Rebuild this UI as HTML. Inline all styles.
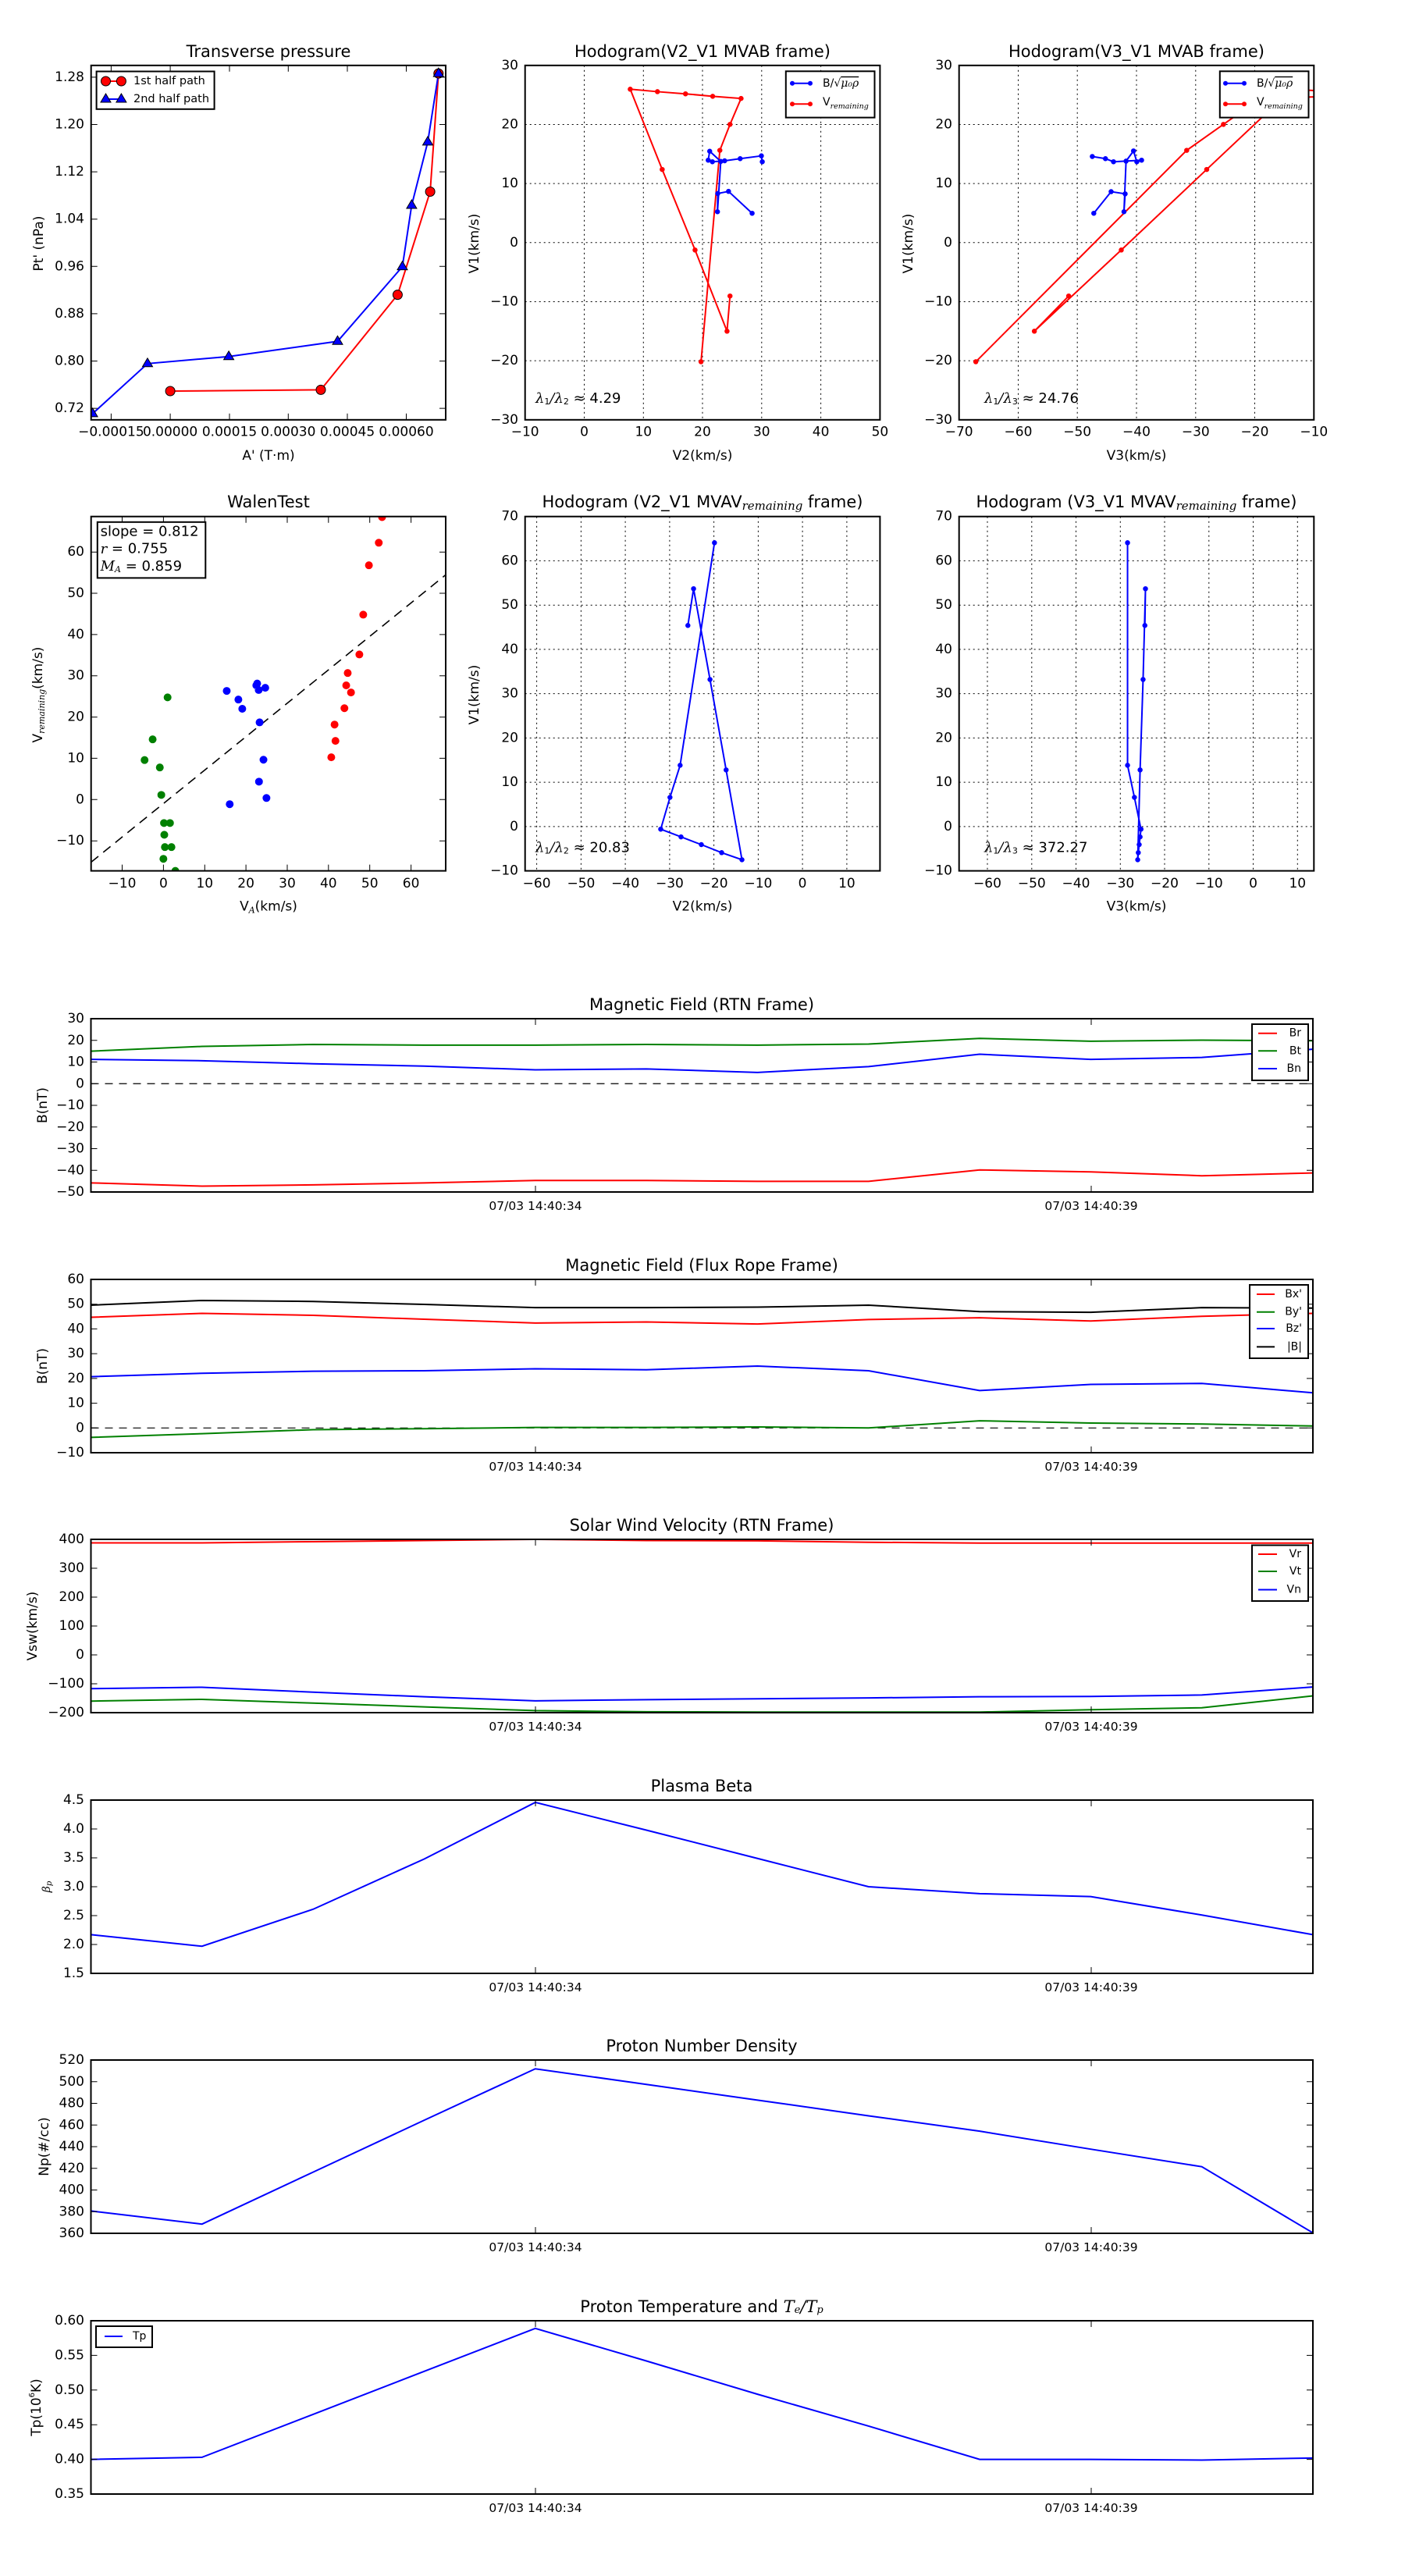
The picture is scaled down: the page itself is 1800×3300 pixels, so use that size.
<!DOCTYPE html>
<html><head><meta charset="utf-8"><style>
html,body{margin:0;padding:0;background:#fff}
svg{display:block}
text{font-family:"DejaVu Sans","Liberation Sans",sans-serif;fill:#000}
.t{font-size:17px}
.ti{font-size:21px}
.m{font-family:"DejaVu Serif","Liberation Serif",serif;font-style:italic}
.ns{vector-effect:non-scaling-stroke}
</style></head><body>
<svg xmlns="http://www.w3.org/2000/svg" width="1800" height="3300" viewBox="0 0 1800 3300">
<rect width="1800" height="3300" fill="#fff"/>
<defs>
<clipPath id="cA"><rect x="116.7" y="83.8" width="454.3" height="454"/></clipPath>
<clipPath id="cB"><rect x="672.7" y="83.8" width="454.7" height="454"/></clipPath>
<clipPath id="cC"><rect x="1228.7" y="83.8" width="454.6" height="454"/></clipPath>
<clipPath id="cW"><rect x="116.7" y="661.7" width="454.3" height="453.9"/></clipPath>
<clipPath id="cB2"><rect x="672.7" y="661.7" width="454.7" height="453.9"/></clipPath>
<clipPath id="cC2"><rect x="1228.7" y="661.7" width="454.6" height="453.9"/></clipPath>
<clipPath id="cT"><rect x="116.5" y="0" width="1565.5" height="3300"/></clipPath>
</defs>

<!-- ============ Plot A: Transverse pressure ============ -->
<text class="ti" x="344" y="66" text-anchor="middle" dominant-baseline="central">Transverse pressure</text>
<g clip-path="url(#cA)">
<polyline points="218.1,501 411,499.4 509.4,377.6 551.1,245.5 561.8,94.1" fill="none" stroke="#f00" stroke-width="2"/>
<polyline points="118.6,529.9 189,465.8 293.1,456.7 432.5,437.3 515.5,341.6 527.4,263 548,181.9 561.8,94.1" fill="none" stroke="#00f" stroke-width="2"/>
<g fill="#f00" stroke="#000" stroke-width="1">
<circle cx="218.1" cy="501" r="6"/><circle cx="411" cy="499.4" r="6"/><circle cx="509.4" cy="377.6" r="6"/><circle cx="551.1" cy="245.5" r="6"/><circle cx="561.8" cy="94.1" r="6"/>
</g>
<g fill="#00f" stroke="#000" stroke-width="1">
<polygon points="118.6,522.9 112.1,533.9 125.1,533.9"/>
<polygon points="189,458.8 182.5,469.8 195.5,469.8"/>
<polygon points="293.1,449.7 286.6,460.7 299.6,460.7"/>
<polygon points="432.5,430.3 426,441.3 439,441.3"/>
<polygon points="515.5,334.6 509,345.6 522,345.6"/>
<polygon points="527.4,256 520.9,267 533.9,267"/>
<polygon points="548,174.9 541.5,185.9 554.5,185.9"/>
<polygon points="561.8,87.1 555.3,98.1 568.3,98.1"/>
</g>
</g>
<rect x="116.7" y="83.8" width="454.3" height="454" fill="none" stroke="#000" stroke-width="2"/>
<path d="M116.7 98.9h8M116.7 159.5h8M116.7 220.1h8M116.7 280.7h8M116.7 341.3h8M116.7 401.9h8M116.7 462.5h8M116.7 523.1h8M571 98.9h-8M571 159.5h-8M571 220.1h-8M571 280.7h-8M571 341.3h-8M571 401.9h-8M571 462.5h-8M571 523.1h-8M142.4 537.8v-8M218.1 537.8v-8M294 537.8v-8M369.3 537.8v-8M445 537.8v-8M520.5 537.8v-8M142.4 83.8v8M218.1 83.8v8M294 83.8v8M369.3 83.8v8M445 83.8v8M520.5 83.8v8" stroke="#000" stroke-width="1"/>
<g class="t" text-anchor="end" dominant-baseline="central">
<text x="108" y="98.9">1.28</text><text x="108" y="159.5">1.20</text><text x="108" y="220.1">1.12</text><text x="108" y="280.7">1.04</text><text x="108" y="341.3">0.96</text><text x="108" y="401.9">0.88</text><text x="108" y="462.5">0.80</text><text x="108" y="523.1">0.72</text>
</g>
<g class="t" text-anchor="middle" dominant-baseline="central">
<text x="142.4" y="553.6">−0.00015</text><text x="218.1" y="553.6">0.00000</text><text x="294" y="553.6">0.00015</text><text x="369.3" y="553.6">0.00030</text><text x="445" y="553.6">0.00045</text><text x="520.5" y="553.6">0.00060</text>
<text x="344" y="584">A' (T·m)</text>
</g>
<text class="t" transform="translate(50 312) rotate(-90)" text-anchor="middle" dominant-baseline="central">Pt' (nPa)</text>
<rect x="123.6" y="91.5" width="151" height="48.3" fill="#fff" stroke="#000" stroke-width="2"/>
<line x1="135.5" y1="104" x2="155.4" y2="104" stroke="#f00" stroke-width="2"/>
<circle cx="135.5" cy="104" r="6" fill="#f00" stroke="#000"/><circle cx="155.4" cy="104" r="6" fill="#f00" stroke="#000"/>
<line x1="135.5" y1="127" x2="155.4" y2="127" stroke="#00f" stroke-width="2"/>
<polygon points="135.5,120 129,131 142,131" fill="#00f" stroke="#000"/><polygon points="155.4,120 148.9,131 161.9,131" fill="#00f" stroke="#000"/>
<text x="171" y="104" font-size="14.5" dominant-baseline="central">1st half path</text>
<text x="171" y="127" font-size="14.5" dominant-baseline="central">2nd half path</text>

<!-- ============ Plot B: Hodogram V2_V1 MVAB ============ -->
<text class="ti" x="900" y="66" text-anchor="middle" dominant-baseline="central">Hodogram(V2_V1 MVAB frame)</text>
<path d="M748.5 83.8V537.8M824.3 83.8V537.8M900 83.8V537.8M975.8 83.8V537.8M1051.6 83.8V537.8M672.7 159.5H1127.4M672.7 235.1H1127.4M672.7 310.8H1127.4M672.7 386.5H1127.4M672.7 462.1H1127.4" stroke="#000" stroke-width="1" stroke-dasharray="2,4"/>
<g clip-path="url(#cB)"><g transform="translate(600 0) scale(0.3827 0.39541)">
<polyline class="ns" points="876,959 866,1073 759,810 649,549 542,289 633,297 727,304 818,312 913,319 876,403 842,487 779,1172" fill="none" stroke="#f00" stroke-width="2"/>
<path class="ns" d="M876 959h0M866 1073h0M759 810h0M649 549h0M542 289h0M633 297h0M727 304h0M818 312h0M913 319h0M876 403h0M842 487h0M779 1172h0" stroke="#f00" stroke-width="6.5" stroke-linecap="round"/>
<polyline class="ns" points="950,691 871,620 835,627 834,686 845,523 808,490 803,519 817,524 858,521 910,514 981,505 984,524" fill="none" stroke="#00f" stroke-width="2"/>
<path class="ns" d="M950 691h0M871 620h0M835 627h0M834 686h0M845 523h0M808 490h0M803 519h0M817 524h0M858 521h0M910 514h0M981 505h0M984 524h0" stroke="#00f" stroke-width="6.5" stroke-linecap="round"/>
</g></g>
<rect x="672.7" y="83.8" width="454.7" height="454" fill="none" stroke="#000" stroke-width="2"/>
<g class="t" text-anchor="end" dominant-baseline="central">
<text x="664" y="83.8">30</text><text x="664" y="159.5">20</text><text x="664" y="235.1">10</text><text x="664" y="310.8">0</text><text x="664" y="386.5">−10</text><text x="664" y="462.1">−20</text><text x="664" y="537.8">−30</text>
</g>
<g class="t" text-anchor="middle" dominant-baseline="central">
<text x="672.7" y="553.6">−10</text><text x="748.5" y="553.6">0</text><text x="824.3" y="553.6">10</text><text x="900" y="553.6">20</text><text x="975.8" y="553.6">30</text><text x="1051.6" y="553.6">40</text><text x="1127.4" y="553.6">50</text>
<text x="900" y="584">V2(km/s)</text>
</g>
<text class="t" transform="translate(608 312) rotate(-90)" text-anchor="middle" dominant-baseline="central">V1(km/s)</text>
<text x="686" y="510" font-size="18" dominant-baseline="central"><tspan class="m">λ</tspan><tspan font-size="11" dy="4">1</tspan><tspan class="m" dy="-4">/λ</tspan><tspan font-size="11" dy="4">2</tspan><tspan dy="-4"> ≈ 4.29</tspan></text>
<rect x="1006.8" y="91.3" width="113.7" height="59.3" fill="#fff" stroke="#000" stroke-width="2"/>
<line x1="1015" y1="106.8" x2="1038" y2="106.8" stroke="#00f" stroke-width="2"/><circle cx="1015" cy="106.8" r="3" fill="#00f"/><circle cx="1038" cy="106.8" r="3" fill="#00f"/>
<line x1="1015" y1="133.3" x2="1038" y2="133.3" stroke="#f00" stroke-width="2"/><circle cx="1015" cy="133.3" r="3" fill="#f00"/><circle cx="1038" cy="133.3" r="3" fill="#f00"/>
<text x="1054" y="106.8" font-size="14" dominant-baseline="central">B/√<tspan class="m" text-decoration="overline">μ₀ρ</tspan></text>
<text x="1054" y="131" font-size="14" dominant-baseline="central">V<tspan class="m" font-size="9.5" dy="5">remaining</tspan></text>

<!-- ============ Plot C: Hodogram V3_V1 MVAB ============ -->
<text class="ti" x="1456" y="66" text-anchor="middle" dominant-baseline="central">Hodogram(V3_V1 MVAB frame)</text>
<path d="M1304.5 83.8V537.8M1380.2 83.8V537.8M1456 83.8V537.8M1531.8 83.8V537.8M1607.5 83.8V537.8M1228.7 159.5H1683.3M1228.7 235.1H1683.3M1228.7 310.8H1683.3M1228.7 386.5H1683.3M1228.7 462.1H1683.3" stroke="#000" stroke-width="1" stroke-dasharray="2,4"/>
<g clip-path="url(#cC)"><g transform="translate(1200 0) scale(0.3827 0.39541)">
<polyline class="ns" points="442,959 327,1073 618,810 904,549 1189,289 1330,297 1360,304 1330,312 1083,319 960,403 837,487 131,1172" fill="none" stroke="#f00" stroke-width="2"/>
<path class="ns" d="M442 959h0M327 1073h0M618 810h0M904 549h0M960 403h0M837 487h0M131 1172h0" stroke="#f00" stroke-width="6.5" stroke-linecap="round"/>
<polyline class="ns" points="526,691 584,621 631,628 627,686 634,522 659,489 670,524 686,519 592,524 565,514 521,507" fill="none" stroke="#00f" stroke-width="2"/>
<path class="ns" d="M526 691h0M584 621h0M631 628h0M627 686h0M634 522h0M659 489h0M670 524h0M686 519h0M592 524h0M565 514h0M521 507h0" stroke="#00f" stroke-width="6.5" stroke-linecap="round"/>
</g></g>
<rect x="1228.7" y="83.8" width="454.6" height="454" fill="none" stroke="#000" stroke-width="2"/>
<g class="t" text-anchor="end" dominant-baseline="central">
<text x="1220" y="83.8">30</text><text x="1220" y="159.5">20</text><text x="1220" y="235.1">10</text><text x="1220" y="310.8">0</text><text x="1220" y="386.5">−10</text><text x="1220" y="462.1">−20</text><text x="1220" y="537.8">−30</text>
</g>
<g class="t" text-anchor="middle" dominant-baseline="central">
<text x="1228.7" y="553.6">−70</text><text x="1304.5" y="553.6">−60</text><text x="1380.2" y="553.6">−50</text><text x="1456" y="553.6">−40</text><text x="1531.8" y="553.6">−30</text><text x="1607.5" y="553.6">−20</text><text x="1683.3" y="553.6">−10</text>
<text x="1456" y="584">V3(km/s)</text>
</g>
<text class="t" transform="translate(1164 312) rotate(-90)" text-anchor="middle" dominant-baseline="central">V1(km/s)</text>
<text x="1261" y="510" font-size="18" dominant-baseline="central"><tspan class="m">λ</tspan><tspan font-size="11" dy="4">1</tspan><tspan class="m" dy="-4">/λ</tspan><tspan font-size="11" dy="4">3</tspan><tspan dy="-4"> ≈ 24.76</tspan></text>
<rect x="1562.8" y="91.3" width="113.7" height="59.3" fill="#fff" stroke="#000" stroke-width="2"/>
<line x1="1570" y1="106.8" x2="1594" y2="106.8" stroke="#00f" stroke-width="2"/><circle cx="1570" cy="106.8" r="3" fill="#00f"/><circle cx="1594" cy="106.8" r="3" fill="#00f"/>
<line x1="1570" y1="133.3" x2="1594" y2="133.3" stroke="#f00" stroke-width="2"/><circle cx="1570" cy="133.3" r="3" fill="#f00"/><circle cx="1594" cy="133.3" r="3" fill="#f00"/>
<text x="1610" y="106.8" font-size="14" dominant-baseline="central">B/√<tspan class="m" text-decoration="overline">μ₀ρ</tspan></text>
<text x="1610" y="131" font-size="14" dominant-baseline="central">V<tspan class="m" font-size="9.5" dy="5">remaining</tspan></text>

<!-- ============ WalenTest ============ -->
<text class="ti" x="344" y="643" text-anchor="middle" dominant-baseline="central">WalenTest</text>
<g clip-path="url(#cW)">
<line x1="116.7" y1="1104.5" x2="571" y2="736.4" stroke="#000" stroke-width="1.6" stroke-dasharray="12,8"/>
<g transform="translate(0 600) scale(0.3827 0.39541)">
<path class="ns" d="M561 742h0M511 878h0M484 945h0M535 969h0M540 1058h0M549 1149h0M569 1149h0M550 1187h0M552 1227h0M574 1227h0M547 1265h0M587 1304h0" stroke="#008000" stroke-width="10" stroke-linecap="round"/>
<path class="ns" d="M759 721h0M798 749h0M811 779h0M861 697h0M866 718h0M888 711h0M869 823h0M882 944h0M867 1015h0M892 1068h0M769 1088h0M858 703h0" stroke="#00f" stroke-width="10" stroke-linecap="round"/>
<path class="ns" d="M1279 158h0M1268 241h0M1235 314h0M1216 474h0M1203 603h0M1164 663h0M1159 703h0M1175 726h0M1153 777h0M1120 830h0M1123 883h0M1109 936h0" stroke="#f00" stroke-width="10" stroke-linecap="round"/>
</g></g>
<rect x="116.7" y="661.7" width="454.3" height="453.9" fill="none" stroke="#000" stroke-width="2"/>
<path d="M116.7 1077.2h8M116.7 1024.3h8M116.7 971.4h8M116.7 918.6h8M116.7 865.7h8M116.7 812.9h8M116.7 760h8M116.7 707.2h8M571 1077.2h-8M571 1024.3h-8M571 971.4h-8M571 918.6h-8M571 865.7h-8M571 812.9h-8M571 760h-8M571 707.2h-8M156.5 1115.6v-8M209.4 1115.6v-8M262.3 1115.6v-8M315.1 1115.6v-8M368 1115.6v-8M420.8 1115.6v-8M473.7 1115.6v-8M526.6 1115.6v-8M156.5 661.7v8M209.4 661.7v8M262.3 661.7v8M315.1 661.7v8M368 661.7v8M420.8 661.7v8M473.7 661.7v8M526.6 661.7v8" stroke="#000" stroke-width="1"/>
<g class="t" text-anchor="end" dominant-baseline="central">
<text x="108" y="1077.2">−10</text><text x="108" y="1024.3">0</text><text x="108" y="971.4">10</text><text x="108" y="918.6">20</text><text x="108" y="865.7">30</text><text x="108" y="812.9">40</text><text x="108" y="760">50</text><text x="108" y="707.2">60</text>
</g>
<g class="t" text-anchor="middle" dominant-baseline="central">
<text x="156.5" y="1132">−10</text><text x="209.4" y="1132">0</text><text x="262.3" y="1132">10</text><text x="315.1" y="1132">20</text><text x="368" y="1132">30</text><text x="420.8" y="1132">40</text><text x="473.7" y="1132">50</text><text x="526.6" y="1132">60</text>
<text x="344" y="1161.5">V<tspan class="m" font-size="11" dy="4">A</tspan><tspan dy="-4">(km/s)</tspan></text>
</g>
<text class="t" transform="translate(49 890) rotate(-90)" text-anchor="middle" dominant-baseline="central">V<tspan class="m" font-size="11" dy="4">remaining</tspan><tspan dy="-4">(km/s)</tspan></text>
<rect x="124.8" y="668.8" width="138.5" height="71.6" fill="#fff" stroke="#000" stroke-width="2"/>
<text x="128.6" y="681" font-size="18" dominant-baseline="central">slope = 0.812</text>
<text x="128.6" y="703" font-size="18" dominant-baseline="central"><tspan class="m">r</tspan> = 0.755</text>
<text x="128.6" y="725" font-size="18" dominant-baseline="central"><tspan class="m">M</tspan><tspan class="m" font-size="11" dy="4">A</tspan><tspan dy="-4"> = 0.859</tspan></text>

<!-- ============ Plot B2 ============ -->
<text class="ti" x="900" y="643" text-anchor="middle" dominant-baseline="central">Hodogram (V2_V1 MVAV<tspan class="m" font-size="15" dy="5">remaining</tspan><tspan dy="-5"> frame)</tspan></text>
<path d="M687.6 661.7V1115.6M744.4 661.7V1115.6M801.1 661.7V1115.6M857.9 661.7V1115.6M914.6 661.7V1115.6M971.4 661.7V1115.6M1028.1 661.7V1115.6M1084.9 661.7V1115.6M672.7 718.4H1127.4M672.7 775.2H1127.4M672.7 831.9H1127.4M672.7 888.6H1127.4M672.7 945.4H1127.4M672.7 1002.1H1127.4M672.7 1058.9H1127.4" stroke="#000" stroke-width="1" stroke-dasharray="2,4"/>
<g clip-path="url(#cB2)"><g transform="translate(600 600) scale(0.3827 0.39541)">
<polyline class="ns" points="735,509 754,390 809,684 863,977 916,1268 848,1245 780,1219 712,1194 644,1169 675,1066 709,962 824,241" fill="none" stroke="#00f" stroke-width="2"/>
<path class="ns" d="M735 509h0M754 390h0M809 684h0M863 977h0M916 1268h0M848 1245h0M780 1219h0M712 1194h0M644 1169h0M675 1066h0M709 962h0M824 241h0" stroke="#00f" stroke-width="6.5" stroke-linecap="round"/>
</g></g>
<rect x="672.7" y="661.7" width="454.7" height="453.9" fill="none" stroke="#000" stroke-width="2"/>
<g class="t" text-anchor="end" dominant-baseline="central">
<text x="664" y="661.7">70</text><text x="664" y="718.4">60</text><text x="664" y="775.2">50</text><text x="664" y="831.9">40</text><text x="664" y="888.6">30</text><text x="664" y="945.4">20</text><text x="664" y="1002.1">10</text><text x="664" y="1058.9">0</text><text x="664" y="1115.6">−10</text>
</g>
<g class="t" text-anchor="middle" dominant-baseline="central">
<text x="687.6" y="1132">−60</text><text x="744.4" y="1132">−50</text><text x="801.1" y="1132">−40</text><text x="857.9" y="1132">−30</text><text x="914.6" y="1132">−20</text><text x="971.4" y="1132">−10</text><text x="1028.1" y="1132">0</text><text x="1084.9" y="1132">10</text>
<text x="900" y="1161.5">V2(km/s)</text>
</g>
<text class="t" transform="translate(608 890) rotate(-90)" text-anchor="middle" dominant-baseline="central">V1(km/s)</text>
<text x="686" y="1085.6" font-size="18" dominant-baseline="central"><tspan class="m">λ</tspan><tspan font-size="11" dy="4">1</tspan><tspan class="m" dy="-4">/λ</tspan><tspan font-size="11" dy="4">2</tspan><tspan dy="-4"> ≈ 20.83</tspan></text>

<!-- ============ Plot C2 ============ -->
<text class="ti" x="1456" y="643" text-anchor="middle" dominant-baseline="central">Hodogram (V3_V1 MVAV<tspan class="m" font-size="15" dy="5">remaining</tspan><tspan dy="-5"> frame)</tspan></text>
<path d="M1265 661.7V1115.6M1321.8 661.7V1115.6M1378.5 661.7V1115.6M1435.3 661.7V1115.6M1492 661.7V1115.6M1548.8 661.7V1115.6M1605.5 661.7V1115.6M1662.3 661.7V1115.6M1228.7 718.4H1683.3M1228.7 775.2H1683.3M1228.7 831.9H1683.3M1228.7 888.6H1683.3M1228.7 945.4H1683.3M1228.7 1002.1H1683.3M1228.7 1058.9H1683.3" stroke="#000" stroke-width="1" stroke-dasharray="2,4"/>
<g clip-path="url(#cC2)"><g transform="translate(1200 600) scale(0.3827 0.39541)">
<polyline class="ns" points="697,509 699,390 691,684 681,977 673,1268 675,1245 678,1219 681,1194 684,1169 662,1066 639,962 639,241" fill="none" stroke="#00f" stroke-width="2"/>
<path class="ns" d="M697 509h0M699 390h0M691 684h0M681 977h0M673 1268h0M675 1245h0M678 1219h0M681 1194h0M684 1169h0M662 1066h0M639 962h0M639 241h0" stroke="#00f" stroke-width="6.5" stroke-linecap="round"/>
</g></g>
<rect x="1228.7" y="661.7" width="454.6" height="453.9" fill="none" stroke="#000" stroke-width="2"/>
<g class="t" text-anchor="end" dominant-baseline="central">
<text x="1220" y="661.7">70</text><text x="1220" y="718.4">60</text><text x="1220" y="775.2">50</text><text x="1220" y="831.9">40</text><text x="1220" y="888.6">30</text><text x="1220" y="945.4">20</text><text x="1220" y="1002.1">10</text><text x="1220" y="1058.9">0</text><text x="1220" y="1115.6">−10</text>
</g>
<g class="t" text-anchor="middle" dominant-baseline="central">
<text x="1265" y="1132">−60</text><text x="1321.8" y="1132">−50</text><text x="1378.5" y="1132">−40</text><text x="1435.3" y="1132">−30</text><text x="1492" y="1132">−20</text><text x="1548.8" y="1132">−10</text><text x="1605.5" y="1132">0</text><text x="1662.3" y="1132">10</text>
<text x="1456" y="1161.5">V3(km/s)</text>
</g>
<text x="1261" y="1085.6" font-size="18" dominant-baseline="central"><tspan class="m">λ</tspan><tspan font-size="11" dy="4">1</tspan><tspan class="m" dy="-4">/λ</tspan><tspan font-size="11" dy="4">3</tspan><tspan dy="-4"> ≈ 372.27</tspan></text>

<!-- ============ Time series ============ -->
<g class="ti" text-anchor="middle" dominant-baseline="central">
<text x="899" y="1287">Magnetic Field (RTN Frame)</text>
<text x="899" y="1621">Magnetic Field (Flux Rope Frame)</text>
<text x="899" y="1954">Solar Wind Velocity (RTN Frame)</text>
<text x="899" y="2288">Plasma Beta</text>
<text x="899" y="2621">Proton Number Density</text>
<text x="899" y="2955">Proton Temperature and <tspan class="m">T</tspan><tspan class="m" font-size="13" dy="4">e</tspan><tspan class="m" dy="-4">/T</tspan><tspan class="m" font-size="13" dy="4">p</tspan></text>
</g>
<g font-size="15.5" text-anchor="middle" dominant-baseline="central">
<text x="686" y="1545">07/03 14:40:34</text><text x="1398" y="1545">07/03 14:40:39</text>
<text x="686" y="1879">07/03 14:40:34</text><text x="1398" y="1879">07/03 14:40:39</text>
<text x="686" y="2212">07/03 14:40:34</text><text x="1398" y="2212">07/03 14:40:39</text>
<text x="686" y="2546">07/03 14:40:34</text><text x="1398" y="2546">07/03 14:40:39</text>
<text x="686" y="2879">07/03 14:40:34</text><text x="1398" y="2879">07/03 14:40:39</text>
<text x="686" y="3213">07/03 14:40:34</text><text x="1398" y="3213">07/03 14:40:39</text>
</g>

<!-- panel 1 -->
<line x1="116.5" y1="1388.25" x2="1682" y2="1388.25" stroke="#000" stroke-width="1.2" stroke-dasharray="10,8"/>
<g clip-path="url(#cT)"><g transform="translate(116.5 1305) scale(142.318 -2.775) translate(0 -30)" fill="none" stroke-width="2">
<polyline class="ns" stroke="#f00" points="0,-45.8 1,-47.3 2,-46.7 3,-45.8 4,-44.7 5,-44.7 6,-45.1 7,-45.1 8,-39.8 9,-40.7 10,-42.5 11,-41.2"/>
<polyline class="ns" stroke="#008000" points="0,15 1,17.2 2,18.1 3,17.8 4,17.8 5,18.1 6,17.8 7,18.3 8,20.9 9,19.6 10,20.1 11,19.8"/>
<polyline class="ns" stroke="#00f" points="0,11.2 1,10.6 2,9.2 3,8.1 4,6.4 5,6.8 6,5.2 7,7.9 8,13.6 9,11.2 10,12.1 11,15.9"/>
</g></g>
<rect x="116.5" y="1305" width="1565.5" height="222" fill="none" stroke="#000" stroke-width="2"/>
<path d="M116.5 1332.75h8M116.5 1360.5h8M116.5 1388.25h8M116.5 1416h8M116.5 1443.75h8M116.5 1471.5h8M116.5 1499.25h8M1682 1332.75h-8M1682 1360.5h-8M1682 1388.25h-8M1682 1416h-8M1682 1443.75h-8M1682 1471.5h-8M1682 1499.25h-8M686 1305v8M686 1527v-8M1398 1305v8M1398 1527v-8" stroke="#000"/>
<g class="t" text-anchor="end" dominant-baseline="central">
<text x="108" y="1305">30</text><text x="108" y="1332.75">20</text><text x="108" y="1360.5">10</text><text x="108" y="1388.25">0</text><text x="108" y="1416">−10</text><text x="108" y="1443.75">−20</text><text x="108" y="1471.5">−30</text><text x="108" y="1499.25">−40</text><text x="108" y="1527">−50</text>
</g>
<text class="t" transform="translate(55 1416) rotate(-90)" text-anchor="middle" dominant-baseline="central">B(nT)</text>
<rect x="1604" y="1312" width="72" height="72" fill="#fff" stroke="#000" stroke-width="2"/>
<line x1="1612" y1="1323.7" x2="1636" y2="1323.7" stroke="#f00" stroke-width="2"/>
<line x1="1612" y1="1346.3" x2="1636" y2="1346.3" stroke="#008000" stroke-width="2"/>
<line x1="1612" y1="1369" x2="1636" y2="1369" stroke="#00f" stroke-width="2"/>
<g font-size="14" text-anchor="end" dominant-baseline="central"><text x="1667" y="1323.7">Br</text><text x="1667" y="1346.3">Bt</text><text x="1667" y="1369">Bn</text></g>

<!-- panel 2 -->
<line x1="116.5" y1="1829.3" x2="1682" y2="1829.3" stroke="#000" stroke-width="1.2" stroke-dasharray="10,8"/>
<g clip-path="url(#cT)"><g transform="translate(116.5 1639) scale(142.318 -3.1714) translate(0 -60)" fill="none" stroke-width="2">
<polyline class="ns" stroke="#f00" points="0,44.7 1,46.3 2,45.5 3,43.9 4,42.4 5,42.8 6,42 7,43.8 8,44.5 9,43.2 10,45.1 11,46.3"/>
<polyline class="ns" stroke="#008000" points="0,-3.8 1,-2.3 2,-0.7 3,-0.3 4,0.2 5,0.2 6,0.4 7,0 8,2.9 9,2 10,1.6 11,0.8"/>
<polyline class="ns" stroke="#00f" points="0,20.7 1,22.1 2,22.9 3,23.1 4,23.9 5,23.5 6,25 7,23.1 8,15.1 9,17.6 10,18 11,14.2"/>
<polyline class="ns" stroke="#000" points="0,49.6 1,51.5 2,51.1 3,49.9 4,48.6 5,48.6 6,48.8 7,49.6 8,47 9,46.7 10,48.6 11,48.4"/>
</g></g>
<rect x="116.5" y="1639" width="1565.5" height="222" fill="none" stroke="#000" stroke-width="2"/>
<path d="M116.5 1670.7h8M116.5 1702.4h8M116.5 1734.1h8M116.5 1765.9h8M116.5 1797.6h8M116.5 1829.3h8M1682 1670.7h-8M1682 1702.4h-8M1682 1734.1h-8M1682 1765.9h-8M1682 1797.6h-8M1682 1829.3h-8M686 1639v8M686 1861v-8M1398 1639v8M1398 1861v-8" stroke="#000"/>
<g class="t" text-anchor="end" dominant-baseline="central">
<text x="108" y="1639">60</text><text x="108" y="1670.7">50</text><text x="108" y="1702.4">40</text><text x="108" y="1734.1">30</text><text x="108" y="1765.9">20</text><text x="108" y="1797.6">10</text><text x="108" y="1829.3">0</text><text x="108" y="1861">−10</text>
</g>
<text class="t" transform="translate(55 1750) rotate(-90)" text-anchor="middle" dominant-baseline="central">B(nT)</text>
<rect x="1601" y="1646" width="75" height="94" fill="#fff" stroke="#000" stroke-width="2"/>
<line x1="1610" y1="1658" x2="1633" y2="1658" stroke="#f00" stroke-width="2"/>
<line x1="1610" y1="1680.7" x2="1633" y2="1680.7" stroke="#008000" stroke-width="2"/>
<line x1="1610" y1="1702" x2="1633" y2="1702" stroke="#00f" stroke-width="2"/>
<line x1="1610" y1="1725.4" x2="1633" y2="1725.4" stroke="#000" stroke-width="2"/>
<g font-size="14" text-anchor="end" dominant-baseline="central"><text x="1668" y="1658">Bx'</text><text x="1668" y="1680.7">By'</text><text x="1668" y="1702">Bz'</text><text x="1668" y="1725.4">|B|</text></g>

<!-- panel 3 -->
<g clip-path="url(#cT)"><g transform="translate(116.5 1972) scale(142.318 -0.37) translate(0 -400)" fill="none" stroke-width="2">
<polyline class="ns" stroke="#f00" points="0,388 1,388 2,392 3,396 4,400 5,396 6,395 7,390 8,387 9,387 10,387 11,387"/>
<polyline class="ns" stroke="#008000" points="0,-160 1,-154 2,-167 3,-180 4,-193 5,-197 6,-198 7,-198 8,-198 9,-190 10,-183 11,-142"/>
<polyline class="ns" stroke="#00f" points="0,-117 1,-112 2,-129 3,-145 4,-159 5,-155 6,-152 7,-149 8,-145 9,-144 10,-139 11,-111"/>
</g></g>
<rect x="116.5" y="1972" width="1565.5" height="222" fill="none" stroke="#000" stroke-width="2"/>
<path d="M116.5 2009h8M116.5 2046h8M116.5 2083h8M116.5 2120h8M116.5 2157h8M1682 2009h-8M1682 2046h-8M1682 2083h-8M1682 2120h-8M1682 2157h-8M686 1972v8M686 2194v-8M1398 1972v8M1398 2194v-8" stroke="#000"/>
<g class="t" text-anchor="end" dominant-baseline="central">
<text x="108" y="1972">400</text><text x="108" y="2009">300</text><text x="108" y="2046">200</text><text x="108" y="2083">100</text><text x="108" y="2120">0</text><text x="108" y="2157">−100</text><text x="108" y="2194">−200</text>
</g>
<text class="t" transform="translate(42 2083) rotate(-90)" text-anchor="middle" dominant-baseline="central">Vsw(km/s)</text>
<rect x="1604" y="1979.5" width="72" height="71.5" fill="#fff" stroke="#000" stroke-width="2"/>
<line x1="1612" y1="1991" x2="1636" y2="1991" stroke="#f00" stroke-width="2"/>
<line x1="1612" y1="2013" x2="1636" y2="2013" stroke="#008000" stroke-width="2"/>
<line x1="1612" y1="2036.5" x2="1636" y2="2036.5" stroke="#00f" stroke-width="2"/>
<g font-size="14" text-anchor="end" dominant-baseline="central"><text x="1667" y="1991">Vr</text><text x="1667" y="2013">Vt</text><text x="1667" y="2036.5">Vn</text></g>

<!-- panel 4 -->
<g clip-path="url(#cT)"><g transform="translate(116.5 2306) scale(142.318 -74) translate(0 -4.5)" fill="none" stroke-width="2">
<polyline class="ns" stroke="#00f" points="0,2.17 1,1.97 2,2.61 3,3.48 4,4.46 5,3.98 6,3.49 7,3.0 8,2.88 9,2.83 10,2.51 11,2.17"/>
</g></g>
<rect x="116.5" y="2306" width="1565.5" height="222" fill="none" stroke="#000" stroke-width="2"/>
<path d="M116.5 2343h8M116.5 2380h8M116.5 2417h8M116.5 2454h8M116.5 2491h8M1682 2343h-8M1682 2380h-8M1682 2417h-8M1682 2454h-8M1682 2491h-8M686 2306v8M686 2528v-8M1398 2306v8M1398 2528v-8" stroke="#000"/>
<g class="t" text-anchor="end" dominant-baseline="central">
<text x="108" y="2306">4.5</text><text x="108" y="2343">4.0</text><text x="108" y="2380">3.5</text><text x="108" y="2417">3.0</text><text x="108" y="2454">2.5</text><text x="108" y="2491">2.0</text><text x="108" y="2528">1.5</text>
</g>
<text transform="translate(60 2417) rotate(-90)" text-anchor="middle" dominant-baseline="central" font-size="14"><tspan class="m">β</tspan><tspan class="m" font-size="10" dy="3">p</tspan></text>

<!-- panel 5 -->
<g clip-path="url(#cT)"><g transform="translate(116.5 2639) scale(142.318 -1.3875) translate(0 -520)" fill="none" stroke-width="2">
<polyline class="ns" stroke="#00f" points="0,380.6 1,368.5 2,416.5 3,464.4 4,511.9 5,497.5 6,483 7,468.5 8,454.3 9,437.7 10,421.5 11,360.4"/>
</g></g>
<rect x="116.5" y="2639" width="1565.5" height="222" fill="none" stroke="#000" stroke-width="2"/>
<path d="M116.5 2666.75h8M116.5 2694.5h8M116.5 2722.25h8M116.5 2750h8M116.5 2777.75h8M116.5 2805.5h8M116.5 2833.25h8M1682 2666.75h-8M1682 2694.5h-8M1682 2722.25h-8M1682 2750h-8M1682 2777.75h-8M1682 2805.5h-8M1682 2833.25h-8M686 2639v8M686 2861v-8M1398 2639v8M1398 2861v-8" stroke="#000"/>
<g class="t" text-anchor="end" dominant-baseline="central">
<text x="108" y="2639">520</text><text x="108" y="2666.75">500</text><text x="108" y="2694.5">480</text><text x="108" y="2722.25">460</text><text x="108" y="2750">440</text><text x="108" y="2777.75">420</text><text x="108" y="2805.5">400</text><text x="108" y="2833.25">380</text><text x="108" y="2861">360</text>
</g>
<text class="t" transform="translate(57 2750) rotate(-90)" text-anchor="middle" dominant-baseline="central">Np(#/cc)</text>

<!-- panel 6 -->
<g clip-path="url(#cT)"><g transform="translate(116.5 2973) scale(142.318 -888) translate(0 -0.6)" fill="none" stroke-width="2">
<polyline class="ns" stroke="#00f" points="0,0.4 1,0.403 2,0.465 3,0.527 4,0.589 5,0.542 6,0.494 7,0.448 8,0.4 9,0.4 10,0.399 11,0.402"/>
</g></g>
<rect x="116.5" y="2973" width="1565.5" height="222" fill="none" stroke="#000" stroke-width="2"/>
<path d="M116.5 3017.4h8M116.5 3061.8h8M116.5 3106.2h8M116.5 3150.6h8M1682 3017.4h-8M1682 3061.8h-8M1682 3106.2h-8M1682 3150.6h-8M686 2973v8M686 3195v-8M1398 2973v8M1398 3195v-8" stroke="#000"/>
<g class="t" text-anchor="end" dominant-baseline="central">
<text x="108" y="2973">0.60</text><text x="108" y="3017.4">0.55</text><text x="108" y="3061.8">0.50</text><text x="108" y="3106.2">0.45</text><text x="108" y="3150.6">0.40</text><text x="108" y="3195">0.35</text>
</g>
<text class="t" transform="translate(47 3084) rotate(-90)" text-anchor="middle" dominant-baseline="central">Tp(10<tspan font-size="10" dy="-6">6</tspan><tspan dy="6">K)</tspan></text>
<rect x="123" y="2980" width="72" height="27" fill="#fff" stroke="#000" stroke-width="2"/>
<line x1="134" y1="2993" x2="157" y2="2993" stroke="#00f" stroke-width="2"/>
<text x="170" y="2993" font-size="14" dominant-baseline="central">Tp</text>
</svg>
</body></html>
